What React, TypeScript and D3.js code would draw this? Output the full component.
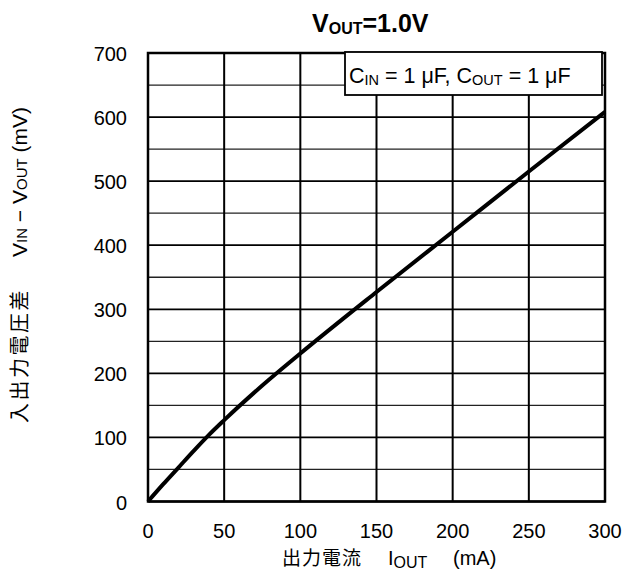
import React from "react";
import * as d3 from "d3";

const currents = [0, 10, 20, 30, 40, 50, 75, 100, 150, 200, 250, 300];
const dropout = [0, 27, 53, 79, 104, 127, 181, 231, 327, 421, 515, 608];
const xTicks = [0, 50, 100, 150, 200, 250, 300];
const yTicks = [0, 100, 200, 300, 400, 500, 600, 700];
const yMinor = [50, 150, 250, 350, 450, 550, 650];

const W = 626;
const H = 574;
const L = 148, R = 605, T = 53, B = 501.5;
const FONT = "'Liberation Sans', Arial, sans-serif";
const CJK = "'Noto Sans CJK JP', 'Liberation Sans', sans-serif";

export default function App() {
  const x = d3.scaleLinear().domain([0, 300]).range([L, R]);
  const y = d3.scaleLinear().domain([0, 700]).range([B, T]);
  const line = d3
    .line<number>()
    .x((_, i) => x(currents[i]))
    .y((d) => y(d))
    .curve(d3.curveMonotoneX);

  return (
    <svg
      width={W}
      height={H}
      style={{ position: "absolute", left: 0, top: 0, background: "#fff" }}
      fontFamily={FONT}
    >
      {yMinor.map((v) => (
        <line key={"m" + v} x1={L} x2={R} y1={y(v)} y2={y(v)} stroke="#222" strokeWidth={1.3} />
      ))}
      {yTicks.map((v) => (
        <line key={"h" + v} x1={L} x2={R} y1={y(v)} y2={y(v)} stroke="#000" strokeWidth={1.8} />
      ))}
      {xTicks.map((v) => (
        <line key={"v" + v} x1={x(v)} x2={x(v)} y1={T} y2={B} stroke="#000" strokeWidth={2} />
      ))}
      <rect x={L} y={T} width={R - L} height={B - T} fill="none" stroke="#000" strokeWidth={2.5} />
      <path d={line(dropout) || ""} fill="none" stroke="#000" strokeWidth={4} />

      <rect x={345} y={52} width={257} height={43} fill="#fff" stroke="#000" strokeWidth={1.8} />
      <text x={349} y={83} fontSize={21.5}>
        C<tspan fontSize={14.5} dy={2}>IN</tspan>
        <tspan dy={-2}> = 1 μF, C</tspan>
        <tspan fontSize={14.5} dy={2}>OUT</tspan>
        <tspan dy={-2}> = 1 μF</tspan>
      </text>

      <text x={312} y={32} fontSize={25} fontWeight="bold">
        V<tspan fontSize={16} dy={2}>OUT</tspan>
        <tspan dy={-2}>=1.0V</tspan>
      </text>

      {yTicks.map((v) => (
        <text key={"yl" + v} x={127} y={y(v) + 8} textAnchor="end" fontSize={20}>
          {v}
        </text>
      ))}
      {xTicks.map((v) => (
        <text key={"xl" + v} x={x(v)} y={538} textAnchor="middle" fontSize={20}>
          {v}
        </text>
      ))}

      <text x={282} y={565} fontSize={19} fontFamily={CJK} letterSpacing={1}>
        出力電流
      </text>
      <text x={388} y={565} fontSize={20}>
        I<tspan fontSize={16} dy={3}>OUT</tspan>
      </text>
      <text x={453} y={565} fontSize={20}>
        (mA)
      </text>

      <g transform="translate(27, 0) rotate(-90)">
        <text x={-423} y={0} fontSize={20} fontFamily={CJK} letterSpacing={2.5}>
          入出力電圧差
        </text>
        <text x={-257} y={0} fontSize={21}>
          V<tspan fontSize={15}>IN</tspan> − V<tspan fontSize={15}>OUT</tspan> (mV)
        </text>
      </g>
    </svg>
  );
}
